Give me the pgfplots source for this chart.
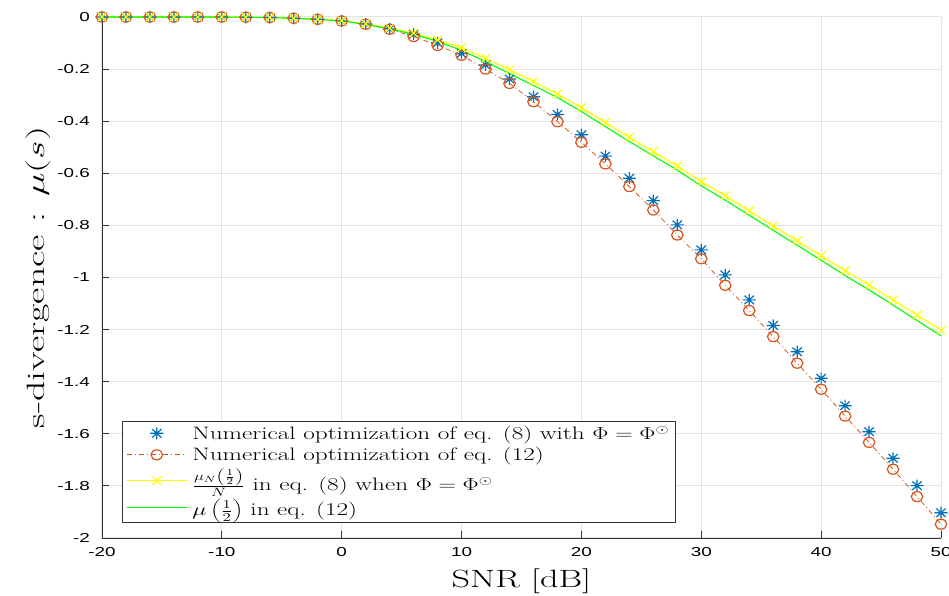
\documentclass[border=0pt]{standalone}
\usepackage{fontspec}
\newfontfamily\tickfont{Liberation Sans}
\usepackage{graphicx}
\usepackage{pgfplots}
\pgfplotsset{compat=1.18}
\definecolor{mblue}{rgb}{0,0.447,0.741}
\definecolor{morange}{rgb}{0.85,0.325,0.098}
\definecolor{myellow}{rgb}{1,1,0}
\definecolor{mgreen}{rgb}{0,1,0}
\definecolor{mgrid}{RGB}{228,228,228}
\newcommand\tkl[1]{\scalebox{1.45}[1]{\tickfont\fontsize{13}{15}\selectfont #1}}
\newcommand\lgd[1]{\hspace{3pt}\scalebox{1.4}[1]{#1}}
\pgfplotsset{
  linelegend/.style={legend image code/.code={\draw[mark repeat=2,mark phase=2,##1] plot coordinates {(0pt,0pt) (30pt,0pt) (60pt,0pt)};}},
  starlegend/.style={legend image code/.code={\draw[##1] plot coordinates {(30pt,0pt)};}},
}
\pgfdeclareplotmark{mstar}{%
  \pgfpathmoveto{\pgfqpoint{-\pgfplotmarksize}{0pt}}\pgfpathlineto{\pgfqpoint{\pgfplotmarksize}{0pt}}%
  \pgfpathmoveto{\pgfqpoint{0pt}{-\pgfplotmarksize}}\pgfpathlineto{\pgfqpoint{0pt}{\pgfplotmarksize}}%
  \pgfpathmoveto{\pgfqpoint{-0.7071\pgfplotmarksize}{-0.7071\pgfplotmarksize}}\pgfpathlineto{\pgfqpoint{0.7071\pgfplotmarksize}{0.7071\pgfplotmarksize}}%
  \pgfpathmoveto{\pgfqpoint{-0.7071\pgfplotmarksize}{0.7071\pgfplotmarksize}}\pgfpathlineto{\pgfqpoint{0.7071\pgfplotmarksize}{-0.7071\pgfplotmarksize}}%
  \pgfusepathqstroke}
\begin{document}
\begin{tikzpicture}
\begin{axis}[
  name=ax,
  scale only axis, width=839pt, height=521pt,
  xmin=-20, xmax=50, ymin=-2, ymax=0,
  xtick={-20,-10,0,10,20,30,40,50},
  xticklabels={\tkl{-20},\tkl{-10},\tkl{0},\tkl{10},\tkl{20},\tkl{30},\tkl{40},\tkl{50}},
  ytick={-2,-1.8,-1.6,-1.4,-1.2,-1,-0.8,-0.6,-0.4,-0.2,0},
  yticklabels={\tkl{-2},\tkl{-1.8},\tkl{-1.6},\tkl{-1.4},\tkl{-1.2},\tkl{-1},\tkl{-0.8},\tkl{-0.6},\tkl{-0.4},\tkl{-0.2},\tkl{0}},
  axis x line*=bottom, axis y line*=left,
  axis line style={-, black!80, line width=0.8pt},
  tick align=inside, major tick length=7pt,
  tick style={black!80, line width=0.8pt},
  grid=major, major grid style={draw=mgrid, line width=1pt},
  clip=false,
  xticklabel style={inner sep=0pt, anchor=north, yshift=-9pt},
  yticklabel style={inner sep=0pt, anchor=east, xshift=-12pt},
  xlabel={\scalebox{1.45}[1]{\fontsize{25}{30}\selectfont SNR [dB]}},
  xlabel style={at={(axis description cs:0.5,-0.0825)}, anchor=center},
  ylabel={\scalebox{1.6}[1]{\fontsize{25}{30}\selectfont s-divergence : $\mu(s)$}},
  ylabel style={at={(axis description cs:-0.0763,0.5)}, anchor=center},
  legend style={at={(axis description cs:0.0238,0.0307)}, anchor=south west,
    draw=black!80, fill=white, inner xsep=4pt, inner ysep=3pt,
    cells={anchor=west}, row sep=2.5pt, font=\fontsize{18}{21}\selectfont},
  linelegend,
]
\addplot[only marks, mark=mstar, mark size=6pt, color=mblue, line width=1.2pt,
  mark options={xscale=1.1}, starlegend]
coordinates {
(-20,0) (-18,0) (-16,0) (-14,0) (-12,0) (-10,0) (-8,-0.001) (-6,-0.002) (-4,-0.005) (-2,-0.009)
(0,-0.015) (2,-0.027) (4,-0.046) (6,-0.066) (8,-0.099) (10,-0.140) (12,-0.184) (14,-0.238)
(16,-0.306) (18,-0.374) (20,-0.452) (22,-0.534) (24,-0.619) (26,-0.705) (28,-0.798) (30,-0.894)
(32,-0.990) (34,-1.086) (36,-1.184) (38,-1.285) (40,-1.387) (42,-1.492) (44,-1.592) (46,-1.694)
(48,-1.799) (50,-1.903)};
\addlegendentry{\lgd{Numerical optimization of eq. (8) with $\Phi=\Phi^{\odot}$}}
\addplot[color=morange, line width=0.8pt, dash pattern=on 5pt off 3pt on 1pt off 3pt,
  mark=o, mark size=5pt, mark options={solid, line width=1.2pt, xscale=1.15}]
coordinates {
(-20,0) (-18,0) (-16,0) (-14,0) (-12,0) (-10,0) (-8,-0.001) (-6,-0.002) (-4,-0.005) (-2,-0.009)
(0,-0.015) (2,-0.028) (4,-0.047) (6,-0.075) (8,-0.109) (10,-0.147) (12,-0.200) (14,-0.255)
(16,-0.325) (18,-0.402) (20,-0.481) (22,-0.564) (24,-0.651) (26,-0.741) (28,-0.837) (30,-0.928)
(32,-1.030) (34,-1.127) (36,-1.227) (38,-1.329) (40,-1.429) (42,-1.532) (44,-1.633) (46,-1.736)
(48,-1.841) (50,-1.947)};
\addlegendentry{\lgd{Numerical optimization of eq. (12)}}
\addplot[color=myellow, line width=1.2pt, mark=x, mark size=6pt, mark options={solid, line width=1.2pt}]
coordinates {
(-20,0) (-18,0) (-16,0) (-14,0) (-12,0) (-10,0) (-8,-0.001) (-6,-0.002) (-4,-0.005) (-2,-0.009)
(0,-0.014) (2,-0.026) (4,-0.043) (6,-0.062) (8,-0.088) (10,-0.118) (12,-0.159) (14,-0.202)
(16,-0.248) (18,-0.296) (20,-0.348) (22,-0.405) (24,-0.462) (26,-0.517) (28,-0.572) (30,-0.632)
(32,-0.686) (34,-0.744) (36,-0.802) (38,-0.859) (40,-0.917) (42,-0.974) (44,-1.029) (46,-1.086)
(48,-1.144) (50,-1.202)};
\addlegendentry{\lgd{$\frac{\mu_N\left(\frac{1}{2}\right)}{N}$ in eq. (8) when $\Phi=\Phi^{\odot}$}}
\addplot[color=mgreen, line width=1.1pt]
coordinates {
(-20,0) (-18,0) (-16,0) (-14,0) (-12,0) (-10,0) (-8,-0.001) (-6,-0.002) (-4,-0.005) (-2,-0.009)
(0,-0.015) (2,-0.028) (4,-0.046) (6,-0.066) (8,-0.094) (10,-0.128) (12,-0.171) (14,-0.217)
(16,-0.263) (18,-0.309) (20,-0.363) (22,-0.421) (24,-0.478) (26,-0.533) (28,-0.588) (30,-0.648)
(32,-0.703) (34,-0.761) (36,-0.819) (38,-0.876) (40,-0.934) (42,-0.992) (44,-1.048) (46,-1.106)
(48,-1.165) (50,-1.224)};
\addlegendentry{\lgd{$\mu\left(\frac{1}{2}\right)$ in eq. (12)}}
\end{axis}
\pgfresetboundingbox
\path ([shift={(-102pt,-58pt)}]ax.south west) rectangle ([shift={(8pt,17pt)}]ax.north east);
\end{tikzpicture}
\end{document}
